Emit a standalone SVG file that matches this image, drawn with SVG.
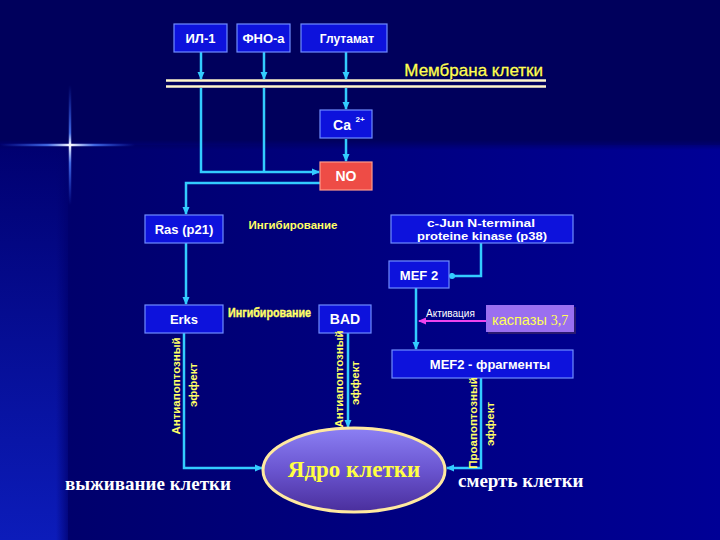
<svg xmlns="http://www.w3.org/2000/svg" width="720" height="540" viewBox="0 0 720 540">
  <defs>
    <linearGradient id="gMain" x1="0" y1="0" x2="1" y2="0">
      <stop offset="0" stop-color="#00006c"/>
      <stop offset="1" stop-color="#000096"/>
    </linearGradient>
    <linearGradient id="gLeft" x1="0" y1="0" x2="0" y2="1">
      <stop offset="0" stop-color="#000070"/>
      <stop offset="1" stop-color="#0c1cba"/>
    </linearGradient>
    <linearGradient id="gLeftEdge" x1="0" y1="0" x2="1" y2="0">
      <stop offset="0" stop-color="#000070" stop-opacity="0"/>
      <stop offset="1" stop-color="#00006c" stop-opacity="1"/>
    </linearGradient>
    <linearGradient id="gTopEdge" x1="0" y1="0" x2="0" y2="1">
      <stop offset="0" stop-color="#00005c" stop-opacity="1"/>
      <stop offset="1" stop-color="#00005c" stop-opacity="0"/>
    </linearGradient>
    <linearGradient id="starH" x1="0" y1="0" x2="135" y2="0" gradientUnits="userSpaceOnUse">
      <stop offset="0" stop-color="#3060ff" stop-opacity="0"/>
      <stop offset="0.35" stop-color="#5080ff" stop-opacity="0.8"/>
      <stop offset="0.52" stop-color="#ffffff"/>
      <stop offset="0.7" stop-color="#5080ff" stop-opacity="0.8"/>
      <stop offset="1" stop-color="#3060ff" stop-opacity="0"/>
    </linearGradient>
    <linearGradient id="starV" x1="0" y1="85" x2="0" y2="205" gradientUnits="userSpaceOnUse">
      <stop offset="0" stop-color="#3060ff" stop-opacity="0"/>
      <stop offset="0.4" stop-color="#5080ff" stop-opacity="0.8"/>
      <stop offset="0.5" stop-color="#ffffff"/>
      <stop offset="0.65" stop-color="#5080ff" stop-opacity="0.8"/>
      <stop offset="1" stop-color="#3060ff" stop-opacity="0"/>
    </linearGradient>
    <linearGradient id="gNuc" x1="0" y1="0" x2="0" y2="1">
      <stop offset="0" stop-color="#8c80f4"/>
      <stop offset="0.5" stop-color="#6a55d0"/>
      <stop offset="1" stop-color="#4a2e9c"/>
    </linearGradient>
    <marker id="arr" viewBox="0 0 8 8" refX="7" refY="4" markerWidth="8" markerHeight="8" markerUnits="userSpaceOnUse" orient="auto">
      <path d="M0,0.5 L8,4 L0,7.5 z" fill="#33ccff"/>
    </marker>
    <marker id="dot" viewBox="0 0 8 8" refX="4" refY="4" markerWidth="7" markerHeight="7" markerUnits="userSpaceOnUse" orient="auto">
      <circle cx="4" cy="4" r="3.5" fill="#33ccff"/>
    </marker>
    <marker id="arrM" viewBox="0 0 8 8" refX="7" refY="4" markerWidth="8" markerHeight="8" markerUnits="userSpaceOnUse" orient="auto">
      <path d="M0,0.5 L8,4 L0,7.5 z" fill="#ee44ee"/>
    </marker>
  </defs>
  <style>
    .box { fill: #0d12dc; stroke: #6f8cff; stroke-width: 1.2; }
    .bt { font-family: "Liberation Sans", Arial, sans-serif; font-weight: bold; fill: #ffffff; text-anchor: middle; }
    .yl { font-family: "Liberation Sans", Arial, sans-serif; font-weight: bold; fill: #ffff66; }
    .vt { font-family: "Liberation Sans", Arial, sans-serif; font-weight: bold; fill: #ffff66; font-size: 11.5px; text-anchor: middle; }
    .con { fill: none; stroke: #33ccff; stroke-width: 2.5; }
    .srf { font-family: "Liberation Serif", "Times New Roman", serif; font-weight: bold; }
  </style>

  <!-- background -->
  <rect x="0" y="0" width="720" height="540" fill="#000080"/>
  <rect x="68" y="145" width="652" height="395" fill="url(#gMain)"/>
  <rect x="0" y="145" width="68" height="395" fill="url(#gLeft)"/>
  <rect x="56" y="145" width="16" height="395" fill="url(#gLeftEdge)"/>
  <rect x="0" y="0" width="720" height="140" fill="#00005c"/>
  <rect x="0" y="140" width="720" height="10" fill="url(#gTopEdge)"/>
  <line x1="0" y1="145" x2="135" y2="145" stroke="url(#starH)" stroke-width="2.5"/>
  <line x1="70" y1="85" x2="70" y2="205" stroke="url(#starV)" stroke-width="2.5"/>

  <!-- membrane -->
  <g id="membrane">
    <line x1="166" y1="80.5" x2="546" y2="80.5" stroke="#fff6cc" stroke-width="2.5"/>
    <line x1="166" y1="86.5" x2="546" y2="86.5" stroke="#fff6cc" stroke-width="2.5"/>
    <text x="544" y="77" text-anchor="end" font-family="Liberation Sans, Arial, sans-serif" font-size="17" fill="#000030">Мембрана клетки</text>
    <text x="543" y="76" text-anchor="end" font-family="Liberation Sans, Arial, sans-serif" font-size="17" fill="#ffff55" stroke="#ffff55" stroke-width="0.3">Мембрана клетки</text>
  </g>

  <!-- connectors -->
  <g id="connectors">
    <path class="con" d="M201,52 V79" marker-end="url(#arr)"/>
    <path class="con" d="M264,52 V79" marker-end="url(#arr)"/>
    <path class="con" d="M346,52 V79" marker-end="url(#arr)"/>
    <path class="con" d="M201,88 V172 H319" marker-end="url(#arr)"/>
    <path class="con" d="M264,88 V172"/>
    <path class="con" d="M346,88 V109" marker-end="url(#arr)"/>
    <path class="con" d="M346,139 V161" marker-end="url(#arr)"/>
    <path class="con" d="M320,183 H186 V214" marker-end="url(#arr)"/>
    <path class="con" d="M186,243 V304" marker-end="url(#arr)"/>
    <path class="con" d="M481,243 V276 H452" marker-end="url(#dot)"/>
    <path class="con" d="M416,288 V349" marker-end="url(#arr)"/>
    <path d="M486,321 H419" fill="none" stroke="#ee44ee" stroke-width="2" marker-end="url(#arrM)"/>
    <path class="con" d="M184,333 V468 H262" marker-end="url(#arr)"/>
    <path class="con" d="M348,333 V427" marker-end="url(#arr)"/>
    <path class="con" d="M481,378 V468 H447" marker-end="url(#arr)"/>
  </g>

  <!-- nodes -->
  <g id="il1">
    <rect class="box" x="174" y="24" width="53" height="28"/>
    <text class="bt" x="200.5" y="43" font-size="13">ИЛ-1</text>
  </g>
  <g id="fno">
    <rect class="box" x="237" y="24" width="53" height="28"/>
    <text class="bt" x="263.5" y="43" font-size="13">ФНО-а</text>
  </g>
  <g id="glutamate">
    <rect class="box" x="301" y="24" width="86" height="28"/>
    <text class="bt" x="347" y="43" font-size="12">Глутамат</text>
  </g>
  <g id="ca">
    <rect class="box" x="320" y="110" width="52" height="28"/>
    <text class="bt" x="342" y="130" font-size="14">Ca</text>
    <text class="bt" x="360" y="122" font-size="8">2+</text>
  </g>
  <g id="no">
    <rect x="320" y="162" width="52" height="28" fill="#ee4c46" stroke="#ff9a8a" stroke-width="1.2"/>
    <text class="bt" x="346" y="181" font-size="14">NO</text>
  </g>
  <g id="ras">
    <rect class="box" x="145" y="215" width="78" height="28"/>
    <text class="bt" x="184" y="234" font-size="13">Ras (p21)</text>
  </g>
  <g id="inhib1">
    <text class="yl" x="293" y="229" font-size="11.5" text-anchor="middle">Ингибирование</text>
  </g>
  <g id="cjun">
    <rect class="box" x="391" y="215" width="182" height="28"/>
    <text class="bt" x="481" y="227" font-size="11" textLength="108" lengthAdjust="spacingAndGlyphs">c-Jun N-terminal</text>
    <text class="bt" x="482" y="239.5" font-size="11" textLength="130" lengthAdjust="spacingAndGlyphs">proteine kinase (p38)</text>
  </g>
  <g id="mef2">
    <rect class="box" x="389" y="261" width="60" height="27"/>
    <text class="bt" x="419" y="280" font-size="13">MEF 2</text>
  </g>
  <g id="erks">
    <rect class="box" x="145" y="305" width="78" height="28"/>
    <text class="bt" x="184" y="324" font-size="13">Erks</text>
  </g>
  <g id="inhib2">
    <text class="yl" x="228" y="317" font-size="12" textLength="83" lengthAdjust="spacingAndGlyphs" stroke="#ffff66" stroke-width="0.4">Ингибирование</text>
  </g>
  <g id="bad">
    <rect class="box" x="319" y="305" width="52" height="28"/>
    <text class="bt" x="345" y="324" font-size="14">BAD</text>
  </g>
  <g id="activation">
    <text x="426" y="317" font-family="Liberation Sans, Arial, sans-serif" font-size="10" fill="#ffffff">Активация</text>
  </g>
  <g id="caspase">
    <rect x="488" y="307" width="88" height="27" fill="#2a1a70"/>
    <rect x="486" y="305" width="88" height="27" fill="#9a6ff0"/>
    <text x="492" y="325" font-family="Liberation Sans, Arial, sans-serif" font-size="14.5" fill="#ffff55">каспазы <tspan font-family="Liberation Serif, serif" font-size="14">3,7</tspan></text>
  </g>
  <g id="mef2frag">
    <rect class="box" x="392" y="350" width="181" height="28"/>
    <text class="bt" x="490" y="369" font-size="13">MEF2 - фрагменты</text>
  </g>
  <g id="effect-labels">
    <text class="vt" transform="translate(179.5,386) rotate(-90)">Антиапоптозный</text>
    <text class="vt" transform="translate(197,385) rotate(-90)">эффект</text>
    <text class="vt" transform="translate(343,379) rotate(-90)">Антиапоптозный</text>
    <text class="vt" transform="translate(359,383) rotate(-90)">эффект</text>
    <text class="vt" transform="translate(477,423) rotate(-90)">Проапоптозный</text>
    <text class="vt" transform="translate(494,424) rotate(-90)">эффект</text>
  </g>
  <g id="nucleus">
    <ellipse cx="354" cy="470" rx="91" ry="42" fill="url(#gNuc)" stroke="#ffe9a0" stroke-width="3"/>
    <text class="srf" x="354" y="477" font-size="23" fill="#ffff44" text-anchor="middle">Ядро клетки</text>
  </g>
  <g id="outcomes">
    <text class="srf" x="65" y="490" font-size="19" fill="#ffffff">выживание клетки</text>
    <text class="srf" x="458" y="487" font-size="19" fill="#ffffff">смерть клетки</text>
  </g>
</svg>
